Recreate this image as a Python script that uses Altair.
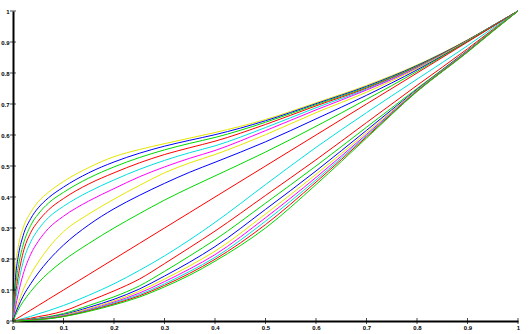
import altair as alt
import pandas as pd

# x positions (shared by every curve)
x_vals = [0, 0.005, 0.01, 0.02, 0.035, 0.05, 0.07, 0.1, 0.15, 0.2, 0.25, 0.3, 0.35, 0.4, 0.5, 0.6, 0.7, 0.8, 0.9, 0.95, 1]

# upper family (top = U9)
U9 = [0, .17, .235, .30, .35, .385, .415, .45, .495, .53, .553, .572, .59, .608, .65, .704, .76, .826, .907, .953, 1]
U8 = [0, .14, .205, .275, .33, .365, .397, .432, .478, .513, .541, .564, .583, .601, .646, .701, .757, .824, .906, .953, 1]
U7 = [0, .11, .17, .245, .308, .345, .38, .415, .461, .497, .527, .552, .573, .592, .641, .698, .754, .822, .905, .953, 1]
U6 = [0, .085, .14, .22, .285, .322, .358, .395, .442, .478, .51, .537, .559, .58, .634, .694, .751, .82, .905, .952, 1]
U5 = [0, .065, .115, .19, .255, .295, .333, .37, .417, .455, .489, .518, .543, .565, .624, .688, .748, .818, .904, .952, 1]
U4 = [0, .045, .085, .15, .215, .257, .298, .338, .387, .427, .465, .497, .525, .55, .614, .681, .745, .816, .903, .952, 1]
U3 = [0, .03, .055, .1, .15, .19, .235, .288, .345, .393, .437, .478, .51, .537, .601, .672, .738, .814, .903, .951, 1]
U2 = [0, .025, .045, .08, .12, .155, .195, .245, .31, .362, .405, .444, .48, .512, .578, .652, .728, .81, .902, .951, 1]
U1 = [0, .018, .035, .062, .095, .123, .155, .195, .25, .30, .346, .39, .43, .468, .545, .628, .715, .805, .902, .951, 1]
# diagonal
D0 = [0, 0.005, 0.01, 0.02, 0.035, 0.05, 0.07, 0.1, 0.15, 0.2, 0.25, 0.3, 0.35, 0.4, 0.5, 0.6, 0.7, 0.8, 0.9, 0.95, 1]
# lower family (bottom = L9)
L1 = [0, .002, .004, .008, .015, .023, .033, .05, .083, .12, .163, .21, .262, .318, .44, .56, .672, .78, .888, .945, 1]
L2 = [0, .001, .002, .005, .009, .014, .02, .032, .064, .097, .135, .185, .237, .29, .405, .52, .64, .76, .878, .94, 1]
L3 = [0, 0, .001, .003, .006, .009, .014, .024, .05, .078, .113, .16, .21, .262, .38, .5, .625, .75, .873, .938, 1]
L4 = [0, 0, .001, .002, .005, .008, .012, .021, .044, .07, .103, .145, .19, .24, .36, .484, .615, .747, .872, .937, 1]
L5 = [0, 0, .001, .002, .004, .007, .011, .019, .04, .065, .096, .135, .178, .225, .345, .473, .608, .745, .871, .937, 1]
L6 = [0, 0, .001, .002, .004, .006, .01, .017, .037, .061, .09, .127, .168, .214, .333, .463, .602, .743, .87, .936, 1]
L7 = [0, 0, .001, .002, .003, .006, .009, .016, .035, .058, .085, .12, .16, .205, .322, .455, .598, .742, .869, .936, 1]
L8 = [0, 0, 0, .001, .003, .005, .008, .015, .033, .055, .081, .115, .154, .199, .311, .448, .594, .741, .868, .935, 1]
L9 = [0, 0, 0, .001, .002, .004, .007, .014, .031, .052, .077, .11, .148, .193, .30, .44, .59, .74, .867, .934, 1]

names = ["U9", "U8", "U7", "U6", "U5", "U4", "U3", "U2", "U1", "D0",
         "L1", "L2", "L3", "L4", "L5", "L6", "L7", "L8", "L9"]
series = [U9, U8, U7, U6, U5, U4, U3, U2, U1, D0, L1, L2, L3, L4, L5, L6, L7, L8, L9]

RED, GREEN, BLUE, YELLOW, MAGENTA, CYAN = "#ff0000", "#00d800", "#0000ff", "#e6e600", "#ff00ff", "#00e0e0"
colors = [YELLOW, BLUE, GREEN, RED, CYAN, MAGENTA, YELLOW, BLUE, GREEN, RED,
          CYAN, RED, GREEN, BLUE, YELLOW, MAGENTA, CYAN, RED, GREEN]

tick_vals = [0, 0.1, 0.2, 0.3, 0.4, 0.5, 0.6, 0.7, 0.8, 0.9, 1]

rows = []
for n, ys in zip(names, series):
    for xv, yv in zip(x_vals, ys):
        rows.append({"curve": n, "x": xv, "y": yv})
df = pd.DataFrame(rows)

label_style = dict(labelFont="Liberation Sans", labelFontWeight="bold", labelFontSize=6,
                   labelColor="black", domainColor="black", domainWidth=2, ticks=False,
                   grid=False, title=None, labelFlush=False, labelOverlap=False,
                   labelBound=False, format="~g", values=tick_vals)
x_axis = alt.Axis(labelPadding=3, **label_style)
y_axis = alt.Axis(labelPadding=4, **label_style)

xs = alt.Scale(domain=[0, 1], nice=False, zero=False)
ys_ = alt.Scale(domain=[0, 1], nice=False, zero=False)

lines = alt.Chart(df).mark_line(strokeWidth=1, interpolate="monotone").encode(
    x=alt.X("x:Q", scale=xs, axis=x_axis),
    y=alt.Y("y:Q", scale=ys_, axis=y_axis),
    color=alt.Color("curve:N", scale=alt.Scale(domain=names, range=colors), legend=None),
)

tdf = pd.DataFrame({"v": tick_vals})
xticks = alt.Chart(tdf).mark_tick(orient="vertical", size=6, thickness=1, color="black").encode(
    x=alt.X("v:Q", scale=xs, axis=x_axis), y=alt.YDatum(0, scale=ys_, axis=y_axis)
)
yticks = alt.Chart(tdf).mark_tick(orient="horizontal", size=6, thickness=1, color="black").encode(
    y=alt.Y("v:Q", scale=ys_, axis=y_axis), x=alt.XDatum(0, scale=xs, axis=x_axis)
)

chart = alt.layer(lines, xticks, yticks).properties(
    width=505, height=310,
    autosize=alt.AutoSizeParams(type="none"),
    padding={"left": 13, "right": 14, "top": 11, "bottom": 13},
).configure_view(strokeWidth=0)

chart.save("out.html", embed_options={"renderer": "svg", "actions": False})
